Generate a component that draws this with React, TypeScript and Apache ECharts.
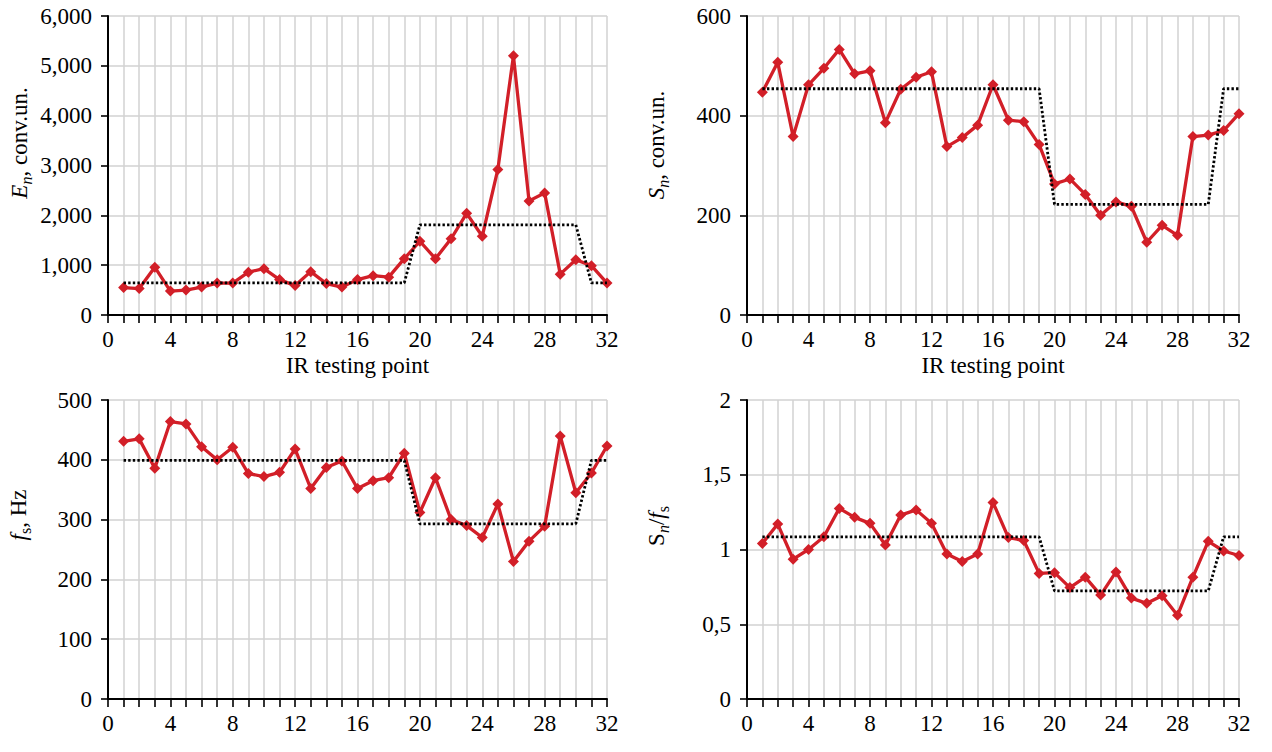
import React, { useEffect, useRef } from "react";
import * as echarts from "echarts";

const points = [1, 2, 3, 4, 5, 6, 7, 8, 9, 10, 11, 12, 13, 14, 15, 16, 17, 18, 19, 20, 21, 22, 23, 24, 25, 26, 27, 28, 29, 30, 31, 32];
const xTickLabels = ["0", "4", "8", "12", "16", "20", "24", "28", "32"];

const enValues = [550, 530, 960, 480, 500, 560, 640, 640, 860, 930, 710, 590, 870, 630, 560, 710, 790, 760, 1130, 1480, 1130, 1530, 2040, 1580, 2920, 5200, 2290, 2450, 820, 1110, 990, 640];
const enMean = [645, 645, 645, 645, 645, 645, 645, 645, 645, 645, 645, 645, 645, 645, 645, 645, 645, 645, 645, 1810, 1810, 1810, 1810, 1810, 1810, 1810, 1810, 1810, 1810, 1810, 645, 645];

const snValues = [447, 507, 358, 462, 495, 533, 484, 490, 386, 453, 477, 488, 338, 356, 381, 462, 391, 388, 342, 263, 273, 242, 200, 227, 218, 146, 180, 160, 358, 361, 370, 404];
const snMean = [454, 454, 454, 454, 454, 454, 454, 454, 454, 454, 454, 454, 454, 454, 454, 454, 454, 454, 454, 222, 222, 222, 222, 222, 222, 222, 222, 222, 222, 222, 454, 454];

const fsValues = [431, 435, 386, 464, 460, 422, 400, 421, 377, 372, 379, 418, 352, 387, 398, 352, 365, 370, 411, 312, 370, 300, 290, 270, 326, 230, 264, 289, 440, 345, 378, 423];
const fsMean = [399, 399, 399, 399, 399, 399, 399, 399, 399, 399, 399, 399, 399, 399, 399, 399, 399, 399, 399, 293, 293, 293, 293, 293, 293, 293, 293, 293, 293, 293, 399, 399];

const ratioValues = [1.04, 1.17, 0.935, 1.0, 1.085, 1.275, 1.215, 1.175, 1.03, 1.23, 1.265, 1.175, 0.97, 0.92, 0.97, 1.315, 1.08, 1.06, 0.84, 0.845, 0.745, 0.815, 0.695, 0.85, 0.675, 0.64, 0.69, 0.56, 0.815, 1.055, 0.99, 0.96];
const ratioMean = [1.085, 1.085, 1.085, 1.085, 1.085, 1.085, 1.085, 1.085, 1.085, 1.085, 1.085, 1.085, 1.085, 1.085, 1.085, 1.085, 1.085, 1.085, 1.085, 0.723, 0.723, 0.723, 0.723, 0.723, 0.723, 0.723, 0.723, 0.723, 0.723, 0.723, 1.085, 1.085];

const SERIF = "'Liberation Serif', 'Times New Roman', serif";
const RED = "#d21f28";
const GRID_GRAY = "#d2d2d2";
const FS = 23;

const panels = [
  { values: enValues, mean: enMean, max: 6000, interval: 1000, fmt: (v: number) => v.toLocaleString("en-US"), xName: "IR testing point" },
  { values: snValues, mean: snMean, max: 600, interval: 200, fmt: (v: number) => String(v), xName: "IR testing point" },
  { values: fsValues, mean: fsMean, max: 500, interval: 100, fmt: (v: number) => String(v), xName: "" },
  { values: ratioValues, mean: ratioMean, max: 2, interval: 0.5, fmt: (v: number) => String(v).replace(".", ","), xName: "" },
];

const grids = [
  { left: 108, top: 16, width: 499, height: 299 },
  { left: 747, top: 16, width: 492, height: 299 },
  { left: 108, top: 400, width: 499, height: 299 },
  { left: 747, top: 400, width: 492, height: 299 },
];

const yNames = [
  { text: "{i|E}{sub|n}{r|, conv.un.}", x: 19, y: 143 },
  { text: "{i|S}{sub|n}{r|, conv.un.}", x: 656, y: 145 },
  { text: "{i|f}{subr|s}{r|, Hz}", x: 18, y: 515 },
  { text: "{r|S}{sub|n}{r|/}{i|f}{subr|s}", x: 656, y: 526 },
];

const richStyles = {
  r: { fontFamily: SERIF, fontSize: FS, fill: "#000", lineHeight: 30, verticalAlign: "middle" },
  i: { fontFamily: SERIF, fontSize: FS, fontStyle: "italic", fill: "#000", lineHeight: 30, verticalAlign: "middle" },
  sub: { fontFamily: SERIF, fontSize: 16, fontStyle: "italic", fill: "#000", lineHeight: 30, verticalAlign: "bottom" },
  subr: { fontFamily: SERIF, fontSize: 16, fill: "#000", lineHeight: 30, verticalAlign: "bottom" },
};

export default function App() {
  const ref = useRef<HTMLDivElement>(null);
  useEffect(() => {
    if (!ref.current) return;
    const chart = echarts.init(ref.current, null, { renderer: "svg" });
    const axisText = { fontFamily: SERIF, fontSize: FS, color: "#000" };
    const option: any = {
      animation: false,
      backgroundColor: "#fff",
      grid: grids.map((g) => ({ ...g, containLabel: false })),
      xAxis: panels.map((p, i) => ({
        type: "value",
        gridIndex: i,
        min: 0,
        max: 32,
        interval: 1,
        name: p.xName,
        nameLocation: "middle",
        nameGap: 39,
        nameTextStyle: { fontFamily: SERIF, fontSize: FS, color: "#000" },
        axisLine: { show: true, onZero: false, lineStyle: { color: "#000", width: 2 } },
        axisTick: { show: true, length: 8, lineStyle: { color: "#000", width: 1.6 } },
        splitLine: { show: true, lineStyle: { color: GRID_GRAY, width: 1.5 } },
        axisLabel: {
          ...axisText,
          margin: 13,
          formatter: (v: number) => (xTickLabels.includes(String(v)) ? String(v) : ""),
        },
      })),
      yAxis: panels.map((p, i) => ({
        type: "value",
        gridIndex: i,
        min: 0,
        max: p.max,
        interval: p.interval,
        axisLine: { show: true, lineStyle: { color: "#000", width: 2 } },
        axisTick: { show: true, length: 7, lineStyle: { color: "#000", width: 1.6 } },
        splitLine: { show: true, lineStyle: { color: GRID_GRAY, width: 1.5 } },
        axisLabel: { ...axisText, margin: 16, formatter: p.fmt },
      })),
      series: panels.flatMap((p, i) => [
        {
          type: "line",
          xAxisIndex: i,
          yAxisIndex: i,
          data: points.map((x, k) => [x, p.values[k]]),
          symbol: "diamond",
          symbolSize: 11,
          lineStyle: { color: RED, width: 3.3 },
          itemStyle: { color: RED },
          z: 3,
        },
        {
          type: "line",
          xAxisIndex: i,
          yAxisIndex: i,
          data: points.map((x, k) => [x, p.mean[k]]),
          symbol: "none",
          lineStyle: { color: "#000", width: 2.8, type: [2.4, 2.2] },
          z: 4,
        },
      ]),
      graphic: yNames.map((n) => ({
        type: "text",
        x: n.x,
        y: n.y,
        rotation: Math.PI / 2,
        style: {
          text: n.text,
          align: "center",
          verticalAlign: "middle",
          textAlign: "center",
          textVerticalAlign: "middle",
          rich: richStyles,
        },
      })),
    };
    chart.setOption(option);
    return () => chart.dispose();
  }, []);
  return (
    <div
      ref={ref}
      style={{ position: "fixed", left: 0, top: 0, width: 1272, height: 752, background: "#fff" }}
    />
  );
}
